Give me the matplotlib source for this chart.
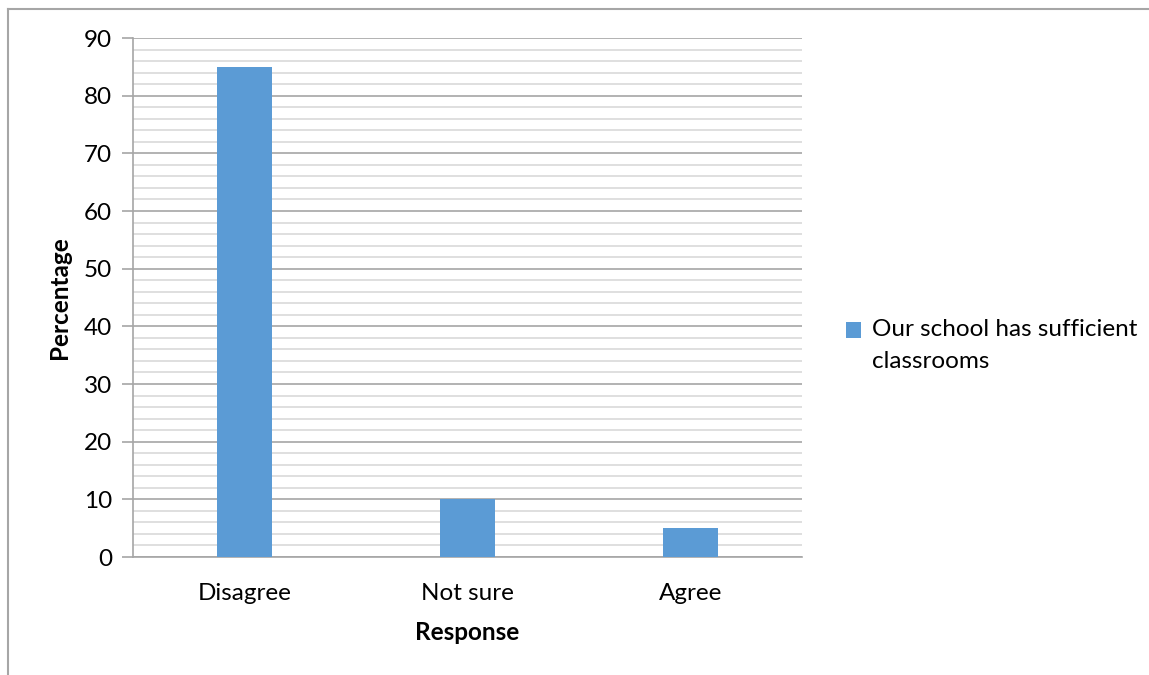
import matplotlib.pyplot as plt
from matplotlib.legend_handler import HandlerPatch
from matplotlib.lines import Line2D
from matplotlib.patches import Patch, Rectangle

plt.rcParams["font.family"] = ["Lato", "DejaVu Sans"]

categories = ["Disagree", "Not sure", "Agree"]
percentages = [85, 10, 5]
series_name = "Our school has sufficient\nclassrooms"

BAR_COLOR = "#5B9BD5"
MAJOR_GRID = "#A6A6A6"
MINOR_GRID = "#D9D9D9"
FS = 17.5

fig = plt.figure(figsize=(11.49, 6.75), dpi=100)
ax = fig.add_axes([0.1158, 0.1748, 0.5822, 0.7689])

x = range(len(categories))
ax.bar(x, percentages, width=0.25, color=BAR_COLOR, zorder=3)

ax.set_xlim(-0.5, len(categories) - 0.5)
ax.set_ylim(0, 90)
ax.set_yticks(range(0, 91, 10))
ax.set_yticks(range(0, 91, 2), minor=True)
ax.set_xticks(list(x))
ax.set_xticklabels(categories)

ax.grid(axis="y", which="minor", color=MINOR_GRID, linewidth=1.2, zorder=0)
ax.grid(axis="y", which="major", color=MAJOR_GRID, linewidth=1.2, zorder=1)

for side in ["top", "right"]:
    ax.spines[side].set_visible(False)
ax.spines["left"].set_color(MAJOR_GRID)
ax.spines["bottom"].set_color(MAJOR_GRID)
ax.spines["left"].set_linewidth(1.2)
ax.spines["bottom"].set_linewidth(1.2)

ax.tick_params(axis="y", which="major", length=8, width=1.2, color=MAJOR_GRID,
               labelsize=FS, pad=7)
ax.tick_params(axis="y", which="minor", length=0)
ax.tick_params(axis="x", length=0, labelsize=FS, pad=19)

ax.set_ylabel("Percentage", fontsize=FS, fontweight="bold", labelpad=9)
ax.set_xlabel("Response", fontsize=FS, fontweight="bold", labelpad=12)


# legend square sits next to the first line of the wrapped label
def top_square(legend, orig_handle, xdescent, ydescent, width, height, fontsize):
    return Rectangle((-xdescent, -ydescent + 11), width, height)


handle = Patch(facecolor=BAR_COLOR, edgecolor="none")
leg = fig.legend([handle], [series_name], loc="center left",
                 bbox_to_anchor=(0.728, 0.488), frameon=False, fontsize=FS,
                 handlelength=0.62, handleheight=0.62, handletextpad=0.45,
                 borderaxespad=0,
                 handler_map={Patch: HandlerPatch(patch_func=top_square)})
for t in leg.get_texts():
    t.set_linespacing(1.65)

# chart area outline (left and top edges)
fig.add_artist(Line2D([0.007, 0.007], [0.0, 0.987], color="#A6A6A6",
                      linewidth=1.5, transform=fig.transFigure))
fig.add_artist(Line2D([0.007, 1.0], [0.987, 0.987], color="#A6A6A6",
                      linewidth=1.5, transform=fig.transFigure))

fig.savefig("out.png", dpi=100)
